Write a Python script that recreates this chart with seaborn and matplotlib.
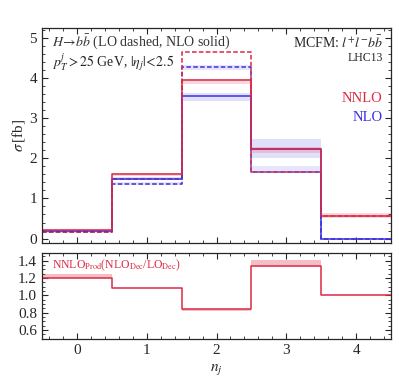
import numpy as np
import pandas as pd
import seaborn as sns
import matplotlib
matplotlib.use("Agg")
import matplotlib.pyplot as plt
from matplotlib.ticker import MultipleLocator

sns.set_style("ticks")
plt.rcParams['font.family'] = ['Liberation Serif', 'DejaVu Serif']
plt.rcParams['mathtext.fontset'] = 'stix'

# ---- data ----
nj = [0, 1, 2, 3, 4]
edges = [-0.5, 0.5, 1.5, 2.5, 3.5, 4.5]
nnlo_nlodec = [0.21, 1.60, 3.95, 2.22, 0.57]
nnlo_nlodec_lo = [0.18, 1.56, 3.84, 2.13, 0.51]
nnlo_nlodec_hi = [0.24, 1.64, 3.98, 2.29, 0.63]
nnlo_lodec = [0.175, 1.48, 4.65, 1.66, 0.57]
nlo_nlodec = [0.20, 1.49, 3.54, 2.22, 0.0]
nlo_nlodec_lo = [0.18, 1.45, 3.43, 2.01, 0.0]
nlo_nlodec_hi = [0.22, 1.53, 3.62, 2.48, 0.0]
nlo_lodec = [0.165, 1.37, 4.27, 1.65, 0.0]
nlo_lodec_lo = [0.15, 1.33, 4.20, 1.62, 0.0]
nlo_lodec_hi = [0.18, 1.41, 4.33, 1.81, 0.0]
ratio = [1.195, 1.08, 0.84, 1.335, 1.0]
ratio_lo = [1.195, 1.08, 0.82, 1.335, 1.0]
ratio_hi = [1.25, 1.08, 0.845, 1.41, 1.0]

red = '#dc2a44'
blue = '#3b2fe0'

fig = plt.figure(figsize=(3.99, 3.80), dpi=100)
ax = fig.add_axes([42/399, 1-243/380, 349/399, 215/380])
ax2 = fig.add_axes([42/399, 1-339/380, 349/399, 86/380])

def band(a, lo, hi, color, alpha):
    a.fill_between(edges, list(lo) + [lo[-1]], list(hi) + [hi[-1]], step='post',
                   color=color, alpha=alpha, linewidth=0)

band(ax, nlo_nlodec_lo, nlo_nlodec_hi, blue, 0.15)
band(ax, nlo_lodec_lo, nlo_lodec_hi, blue, 0.12)
band(ax, nnlo_nlodec_lo, nnlo_nlodec_hi, red, 0.18)

def step(a, vals, color, ls):
    sns.histplot(x=nj, weights=vals, bins=edges, element='step', fill=False,
                 color=color, linestyle=ls, linewidth=1.1, ax=a)

step(ax, nlo_lodec, blue, (0, (3, 1.5)))
step(ax, nnlo_lodec, red, (0, (3, 1.5)))
step(ax, nlo_nlodec, blue, '-')
step(ax, nnlo_nlodec, red, '-')

ax.set_xlim(-0.5, 4.5)
ax.set_ylim(-0.11, 5.24)
ax.set_xlabel('')
ax.set_ylabel(r'$\sigma\,$[fb]', fontsize=11, labelpad=2)
ax.set_xticklabels([])

band(ax2, ratio_lo, ratio_hi, red, 0.3)
step(ax2, ratio, red, '-')
ax2.set_xlim(-0.5, 4.5)
ax2.set_ylim(0.495, 1.49)
ax2.set_ylabel('')
ax2.set_xlabel(r'$n_j$', fontsize=11)
ax2.set_yticks([0.6, 0.8, 1.0, 1.2, 1.4])
ax2.set_yticklabels(['0.6', '0.8', '1.0', '1.2', '1.4'])

for a in (ax, ax2):
    a.xaxis.set_major_locator(MultipleLocator(1))
    a.xaxis.set_minor_locator(MultipleLocator(0.2))
    a.tick_params(which='both', direction='in', top=True, right=True, labelsize=11)
    a.tick_params(which='major', length=4, width=0.8)
    a.tick_params(which='minor', length=2, width=0.6)
    for s in a.spines.values():
        s.set_linewidth(0.9)
ax.yaxis.set_major_locator(MultipleLocator(1))
ax.yaxis.set_minor_locator(MultipleLocator(0.2))
ax2.yaxis.set_minor_locator(MultipleLocator(0.05))

ax.text(0.029, 0.935, r'$H\!\rightarrow\! b\bar{b}$ (LO dashed, NLO solid)', transform=ax.transAxes,
        fontsize=10, color='#333333', ha='left', va='center')
ax.text(0.029, 0.84, r'$p_T^j > 25$ GeV, $|\eta_j|\!<\!2.5$', transform=ax.transAxes,
        fontsize=10, ha='left', va='center')
ax.text(0.977, 0.93, r'MCFM: $l^{+}l^{-}b\bar{b}$', transform=ax.transAxes,
        fontsize=10, ha='right', va='center')
ax.text(0.977, 0.86, 'LHC13', transform=ax.transAxes, fontsize=8.5, ha='right', va='center')
ax.text(0.975, 0.674, 'NNLO', transform=ax.transAxes, fontsize=10.5, ha='right', va='center', color=red)
ax.text(0.975, 0.586, 'NLO', transform=ax.transAxes, fontsize=10.5, ha='right', va='center', color=blue)
ax2.text(0.029, 0.86, r'NNLO$_{\mathrm{Prod}}$(NLO$_{\mathrm{Dec}}$/LO$_{\mathrm{Dec}}$)',
         transform=ax2.transAxes, fontsize=8.5, ha='left', va='center', color=red)

fig.savefig('out.png', dpi=100)
